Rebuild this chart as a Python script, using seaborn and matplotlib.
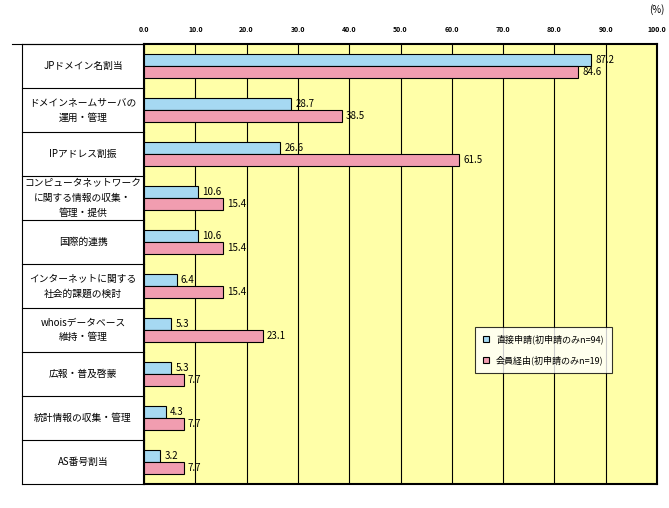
import matplotlib
matplotlib.use("Agg")
import matplotlib.pyplot as plt
import matplotlib.transforms as mtransforms
import seaborn as sns
import pandas as pd

plt.rcParams["font.family"] = ["Noto Sans CJK JP", "DejaVu Sans"]

categories = ["JPドメイン名割当", "ドメインネームサーバの\n運用・管理", "IPアドレス割振",
              "コンピュータネットワーク\nに関する情報の収集・\n管理・提供", "国際的連携",
              "インターネットに関する\n社会的課題の検討", "whoisデータベース\n維持・管理",
              "広報・普及啓蒙", "統計情報の収集・管理", "AS番号割当"]
series_names = ["直接申請(初申請のみn=94)", "会員経由(初申請のみn=19)"]
direct = [87.2, 28.7, 26.6, 10.6, 10.6, 6.4, 5.3, 5.3, 4.3, 3.2]
member = [84.6, 38.5, 61.5, 15.4, 15.4, 15.4, 23.1, 7.7, 7.7, 7.7]
ticks = [0, 10, 20, 30, 40, 50, 60, 70, 80, 90, 100]

df = pd.DataFrame({
    "cat": categories * 2,
    "series": [series_names[0]] * len(categories) + [series_names[1]] * len(categories),
    "val": direct + member,
})

fig = plt.figure(figsize=(6.69, 5.08), dpi=100)
ax = fig.add_axes([144/669, 1-484/508, 513/669, 440/508])
ax.set_facecolor("#FFFFA8")
sns.barplot(data=df, y="cat", x="val", hue="series", orient="h",
            palette=["#99DDFF", "#FF8FA8"], edgecolor="black", linewidth=0.8,
            width=0.55, gap=0, ax=ax, zorder=3)
ax.set_xlim(0, 100)
ax.set_ylim(len(categories)-0.5, -0.5)
ax.xaxis.tick_top()
ax.set_xticks(ticks)
ax.set_xticklabels([f"{t:.1f}" for t in ticks], fontsize=5, fontweight="bold")
ax.tick_params(axis="x", length=0, pad=8)
ax.set_yticks([])
ax.set_xlabel(""); ax.set_ylabel("")
ax.grid(axis="x", color="black", linewidth=0.8, zorder=0)
for s in ax.spines.values():
    s.set_linewidth(1.5)
ax.text(1.0, 1.07, "(%)", transform=ax.transAxes, ha="center", fontsize=7)

for cont in ax.containers:
    for bar in cont:
        w = bar.get_width()
        ax.text(w + 0.8, bar.get_y() + bar.get_height()/2, f"{w:.1f}",
                va="center", ha="left", fontsize=7, zorder=4)

trans = mtransforms.blended_transform_factory(ax.transAxes, ax.transData)
left = -(144-22)/513
for i in range(len(categories)+1):
    ax.plot([left, 0], [i-0.5, i-0.5], transform=trans, color="black", lw=0.8, clip_on=False)
ax.plot([left, left], [-0.5, len(categories)-0.5], transform=trans, color="black", lw=0.8, clip_on=False)
ax.plot([left-0.02, 0], [-0.5, -0.5], transform=trans, color="black", lw=0.8, clip_on=False)
for i, c in enumerate(categories):
    ax.text(left/2, i, c, transform=trans, ha="center", va="center", fontsize=7, linespacing=1.6)

leg = ax.legend(loc="upper left", bbox_to_anchor=((470-144)/513, 1-(322-44)/440),
                fontsize=6.5, frameon=True, fancybox=False, edgecolor="black",
                handlelength=0.7, handleheight=0.7, labelspacing=1.2, borderpad=0.9)
leg.get_frame().set_facecolor("white")
leg.get_frame().set_linewidth(0.8)

fig.savefig("out.png", dpi=100)
